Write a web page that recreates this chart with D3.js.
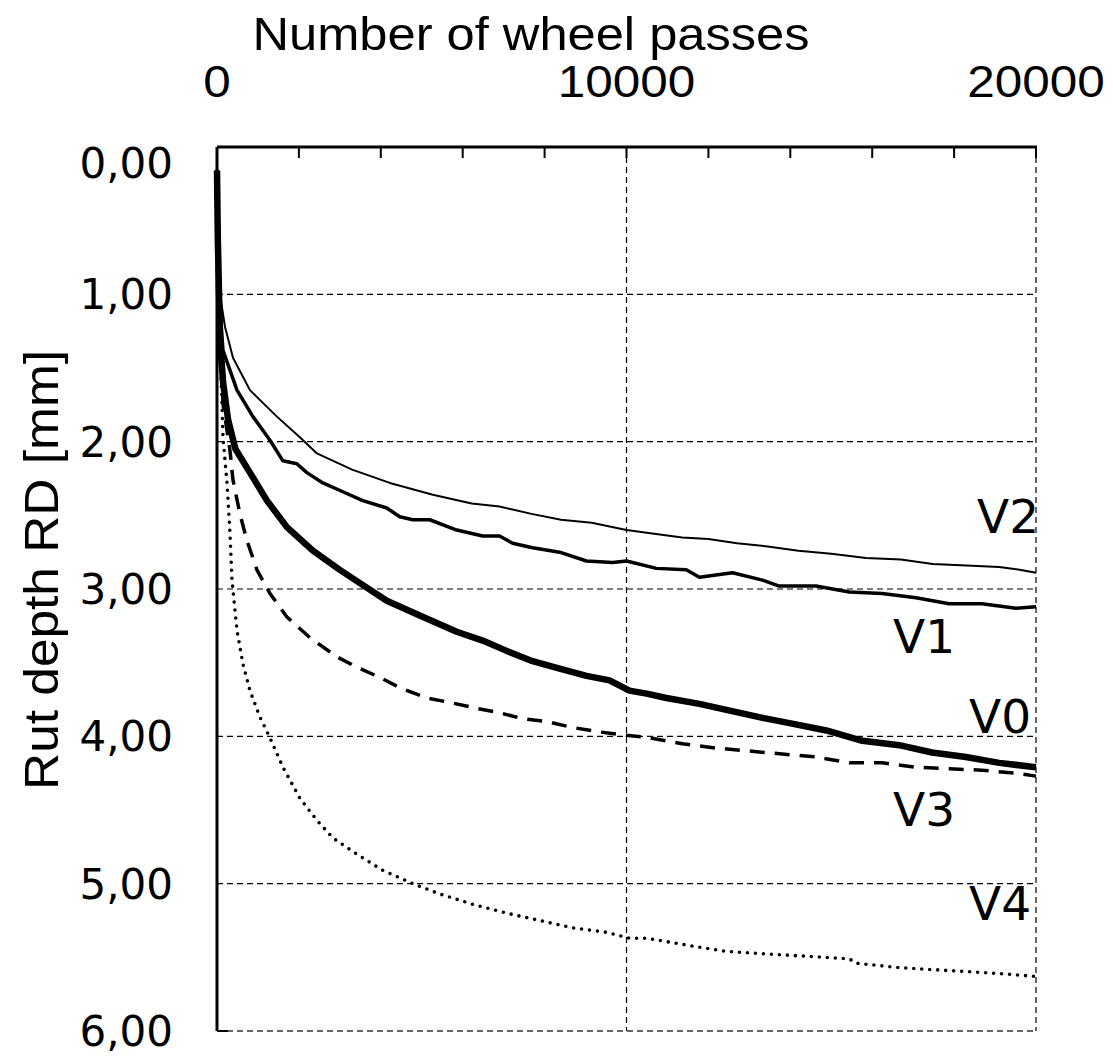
<!DOCTYPE html>
<html><head><meta charset="utf-8">
<script src="https://cdn.jsdelivr.net/npm/d3@7"></script>
<style>body{margin:0;background:#fff;} svg{display:block;}</style>
</head><body>
<svg id="c" width="1113" height="1058"></svg>
<script>
const xTicks = [0, 10000, 20000];
const xMinorTicks = [0, 2000, 4000, 6000, 8000, 10000, 12000, 14000, 16000, 18000, 20000];
const yTicks = [0, 1, 2, 3, 4, 5, 6];
const yTickLabels = ["0,00", "1,00", "2,00", "3,00", "4,00", "5,00", "6,00"];
const xTitle = "Number of wheel passes";
const yTitle = "Rut depth RD [mm]";

const v2 = [[0,0.16],[20,0.6],[50,0.95],[100,1.05],[195,1.22],[390,1.43],[805,1.65],[1463,1.83],[2024,1.97],[2440,2.08],[3300,2.19],[4220,2.28],[5270,2.36],[6220,2.42],[6900,2.44],[7680,2.49],[8400,2.53],[9150,2.55],[10000,2.60],[10540,2.62],[11360,2.65],[12000,2.66],[12700,2.69],[13400,2.71],[14200,2.74],[15000,2.76],[15850,2.79],[16700,2.80],[17480,2.83],[18300,2.84],[19100,2.85],[19600,2.87],[20000,2.89]];
const v1 = [[0,0.16],[20,0.6],[50,0.98],[100,1.2],[146,1.38],[488,1.65],[878,1.83],[1293,1.99],[1610,2.13],[1950,2.15],[2195,2.21],[2585,2.28],[3073,2.34],[3560,2.40],[4146,2.45],[4463,2.51],[4780,2.53],[5195,2.53],[5854,2.60],[6488,2.64],[6900,2.64],[7220,2.69],[7707,2.72],[8366,2.75],[9024,2.81],[9660,2.82],[10000,2.81],[10730,2.86],[11460,2.87],[11780,2.92],[12590,2.89],[13320,2.94],[13730,2.98],[14630,2.98],[15440,3.02],[16240,3.03],[17070,3.06],[17880,3.10],[18680,3.10],[19510,3.13],[20000,3.12]];
const v0 = [[0,0.16],[20,0.62],[50,1.0],[73,1.31],[150,1.6],[270,1.85],[450,2.05],[805,2.21],[1220,2.40],[1707,2.58],[2340,2.74],[3000,2.87],[3490,2.96],[4146,3.08],[4950,3.18],[5854,3.29],[6488,3.35],[7073,3.42],[7707,3.49],[8366,3.54],[9024,3.59],[9585,3.62],[10073,3.69],[10490,3.71],[10975,3.74],[11780,3.78],[12440,3.82],[13240,3.87],[13980,3.91],[14880,3.96],[15760,4.03],[16660,4.06],[17460,4.11],[18290,4.14],[19100,4.18],[20000,4.21]];
const v3 = [[0,0.16],[20,0.65],[50,1.05],[90,1.4],[150,1.75],[317,2.06],[390,2.26],[560,2.49],[730,2.67],[975,2.87],[1293,3.03],[1707,3.19],[2268,3.33],[2927,3.46],[3415,3.53],[3975,3.60],[4463,3.67],[5122,3.74],[5683,3.77],[6341,3.81],[6900,3.84],[7460,3.88],[8050,3.90],[8680,3.94],[9340,3.97],[9900,3.99],[10560,4.01],[11370,4.05],[12200,4.08],[13000,4.10],[13800,4.12],[14630,4.14],[15440,4.18],[16240,4.18],[17070,4.21],[17880,4.22],[18680,4.23],[19510,4.25],[20000,4.27]];
const v4 = [[0,0.16],[20,0.7],[50,1.15],[73,1.38],[120,1.72],[146,1.97],[244,2.28],[317,2.62],[366,2.94],[488,3.28],[634,3.51],[805,3.69],[1050,3.87],[1293,4.01],[1610,4.21],[2024,4.42],[2440,4.57],[2830,4.69],[3415,4.80],[4050,4.91],[4780,5.00],[5440,5.07],[6244,5.14],[7073,5.20],[7880,5.25],[8680,5.30],[9510,5.33],[10073,5.37],[10490,5.37],[11540,5.42],[12440,5.46],[13000,5.47],[14220,5.49],[15440,5.51],[15610,5.54],[16660,5.57],[17880,5.59],[19100,5.61],[20000,5.63]];

const series = [
  {name:"V2", data:v2, width:2, dash:null, label:[977,533]},
  {name:"V1", data:v1, width:3.5, dash:null, label:[893,653]},
  {name:"V0", data:v0, width:6.5, dash:null, label:[969,733]},
  {name:"V3", data:v3, width:3.5, dash:"15,10", label:[893,826]},
  {name:"V4", data:v4, width:3.6, dash:"0,8", label:[969,920], cap:"round"}
];

const L = 217, R = 1036, T = 147, B = 1031;
const x = d3.scaleLinear().domain([0, 20000]).range([L, R]);
const y = d3.scaleLinear().domain([0, 6]).range([T, B]);
const svg = d3.select("#c");

// gridlines
svg.append("g").selectAll("line").data(yTicks.slice(1)).join("line")
  .attr("x1", L).attr("x2", R).attr("y1", d => y(d)).attr("y2", d => y(d))
  .attr("stroke", d => d === 6 ? "#666" : "#000").attr("stroke-width", d => d === 6 ? 2 : 1.2)
  .attr("stroke-dasharray", "6,4");
svg.append("g").selectAll("line").data(xTicks.slice(1)).join("line")
  .attr("x1", d => x(d)).attr("x2", d => x(d)).attr("y1", T).attr("y2", B)
  .attr("stroke", d => d === 20000 ? "#666" : "#000").attr("stroke-width", d => d === 20000 ? 2 : 1.2)
  .attr("stroke-dasharray", "6,4");

// series
const line = d3.line().x(d => x(d[0])).y(d => y(d[1]));
svg.append("g").selectAll("path").data(series).join("path")
  .attr("d", d => line(d.data)).attr("fill", "none").attr("stroke", "#000")
  .attr("stroke-width", d => d.width)
  .attr("stroke-dasharray", d => d.dash)
  .attr("stroke-linecap", d => d.cap || "butt")
  .attr("stroke-linejoin", "round");

// axes lines
svg.append("line").attr("x1", L).attr("x2", L).attr("y1", T).attr("y2", B).attr("stroke", "#000").attr("stroke-width", 3);
svg.append("line").attr("x1", L).attr("x2", R + 1).attr("y1", T).attr("y2", T).attr("stroke", "#000").attr("stroke-width", 3);
svg.append("line").attr("x1", L).attr("x2", L + 11).attr("y1", B).attr("y2", B).attr("stroke", "#000").attr("stroke-width", 2);
svg.append("g").selectAll("line").data(xMinorTicks).join("line")
  .attr("x1", d => x(d)).attr("x2", d => x(d)).attr("y1", T).attr("y2", T + 11)
  .attr("stroke", "#000").attr("stroke-width", 2);

// x tick labels
svg.append("g").selectAll("text").data(xTicks).join("text")
  .attr("x", d => x(d)).attr("y", 97).attr("text-anchor", "middle")
  .attr("font-family", "'Liberation Sans', Arial, sans-serif").attr("font-size", 44)
  .attr("textLength", d => String(d).length * 27.5).attr("lengthAdjust", "spacingAndGlyphs")
  .text(d => String(d));
svg.append("text").attr("x", 531).attr("y", 50).attr("text-anchor", "middle")
  .attr("font-family", "'Liberation Sans', Arial, sans-serif").attr("font-size", 46)
  .attr("textLength", 557).attr("lengthAdjust", "spacingAndGlyphs")
  .text(xTitle);

// y tick labels
svg.append("g").selectAll("text").data(yTicks).join("text")
  .attr("x", 173).attr("y", (d, i) => y(d) + 15 + (i === 0 ? 16 : 0)).attr("text-anchor", "end")
  .attr("font-family", "'DejaVu Sans', sans-serif").attr("font-size", 42)
  .text((d, i) => yTickLabels[i]);
svg.append("text").attr("transform", "translate(58,570) rotate(-90)").attr("text-anchor", "middle")
  .attr("font-family", "'Liberation Sans', Arial, sans-serif").attr("font-size", 48)
  .attr("textLength", 440).attr("lengthAdjust", "spacingAndGlyphs")
  .text(yTitle);

// series labels
svg.append("g").selectAll("text").data(series).join("text")
  .attr("x", d => d.label[0]).attr("y", d => d.label[1])
  .attr("font-family", "'DejaVu Sans', sans-serif").attr("font-size", 47)
  .text(d => d.name);
</script>
</body></html>
